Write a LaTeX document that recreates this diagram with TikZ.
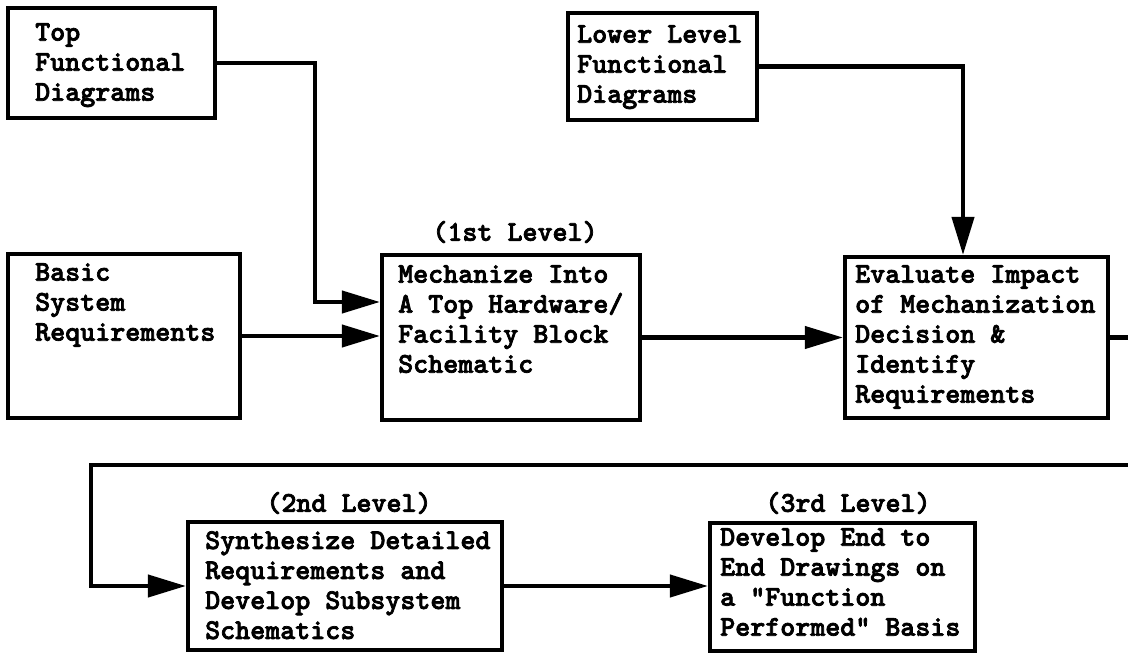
\documentclass[tikz,border=0pt]{standalone}
\usepackage{fontspec}
\usetikzlibrary{arrows.meta}
\newfontfamily\twfont{lmmonolt10-bold.otf}[FakeBold=2.5]
\newcommand{\tw}{\twfont\fontsize{28.6}{30}\selectfont}
\begin{document}
\begin{tikzpicture}[x=1pt,y=-1pt,
  box/.style={draw, line width=4.2pt, rectangle, inner sep=0pt},
  txt/.style={anchor=north west, inner sep=0pt, align=left, font=\tw},
  lvl/.style={inner sep=0pt, font=\tw},
  arr/.style={line width=4.2pt, -{Triangle[length=38pt,width=22pt]}}]
\useasboundingbox (0,0) rectangle (1128,653);
% boxes
\node[box, minimum width=207pt, minimum height=110pt] (A) at (111.5,63) {};
\node[box, minimum width=189pt, minimum height=107pt] (LL) at (662.5,66.5) {};
\node[box, minimum width=232pt, minimum height=164pt] (B) at (124,336) {};
\node[box, minimum width=258pt, minimum height=165pt] (C) at (511,337.5) {};
\node[box, minimum width=263pt, minimum height=161pt] (D) at (976.5,337.5) {};
\node[box, minimum width=314pt, minimum height=128pt] (E) at (345,586) {};
\node[box, minimum width=265pt, minimum height=128pt] (F) at (842.5,587) {};
% texts
\node[txt] (tA) at (35,23) {Top\\Functional\\Diagrams};
\node[txt] (tLL) at (577,25) {Lower Level\\Functional\\Diagrams};
\node[txt] (tB) at (35,263) {Basic\\System\\Requirements};
\node[txt] (tC) at (398,265) {Mechanize Into\\A Top Hardware/\\Facility Block\\Schematic};
\node[txt] (tD) at (855,265) {Evaluate Impact\\of Mechanization\\Decision \&\\Identify\\Requirements};
\node[txt] (tE) at (205,531) {Synthesize Detailed\\Requirements and\\Develop Subsystem\\Schematics};
\node[txt] (tF) at (720,528) {Develop End to\\End Drawings on\\a "Function\\Performed" Basis};
% level labels
\node[lvl] (l1) at (515,232) {(1st Level)};
\node[lvl] (l2) at (349,503) {(2nd Level)};
\node[lvl] (l3) at (848,503) {(3rd Level)};
% junction coordinates
\coordinate (j1) at (315,302);
\coordinate (j2) at (963,66.5);
\coordinate (r1) at (1142,337.5);
\coordinate (r2) at (1142,465);
\coordinate (j3) at (91,465);
% connectors
\draw[arr] (A.east) -| (j1) -- (j1 -| C.west);
\draw[arr] (B.east) -- (B.east -| C.west);
\draw[arr] (C.east) -- (C.east -| D.west);
\draw[arr] (LL.east) -- (j2) -- (j2 |- D.north);
\draw[arr] (D.east) -- (r1) -- (r2) -- (j3) -- (j3 |- E.west) -- (E.west);
\draw[arr] (E.east) -- (E.east -| F.west);
\end{tikzpicture}
\end{document}
